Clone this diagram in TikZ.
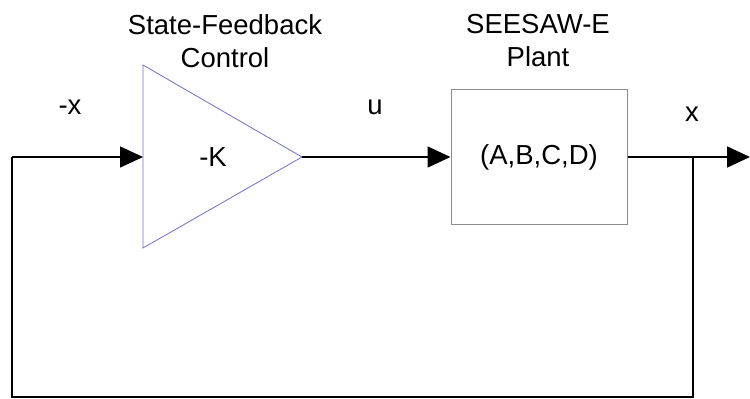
\documentclass[tikz,border=0pt]{standalone}
\usepackage{fontspec}
\setmainfont{Liberation Sans}
\usetikzlibrary{arrows.meta}
\definecolor{tri}{RGB}{110,110,200}
\definecolor{boxc}{RGB}{140,140,140}
\begin{document}
\begin{tikzpicture}[x=1pt,y=-1pt,
  lbl/.style={font=\fontsize{27.5}{33}\selectfont, inner sep=0pt},
  sig/.style={line width=1.6pt, -{Triangle[length=23pt,width=21pt]}},
  wire/.style={line width=1.6pt}]
\useasboundingbox (0,0) rectangle (750,399);
% triangle gain block
\coordinate (tl) at (143,65);
\coordinate (tb) at (143,248);
\coordinate (tip) at (302,157);
\coordinate (kin) at (143,157);
\draw[tri, line width=0.8pt] (tl) -- (tip) -- (tb) -- cycle;
\node[lbl] (K) at (213,157) {-K};
% plant box
\node[draw=boxc, line width=1pt, minimum width=176pt, minimum height=135pt, inner sep=0pt,
  font=\fontsize{27.5}{33}\selectfont] (P) at (539,157) {(A,B,C,D)};
% titles
\node[lbl, align=center] (t1) at (225,41) {State-Feedback\\Control};
\node[lbl, align=center] (t2) at (538,41) {SEESAW-E\\Plant};
% signal labels
\node[lbl] (lx) at (70,107) {-x};
\node[lbl] (lu) at (375,107) {u};
\node[lbl] (lxo) at (692,114) {x};
% connectors
\coordinate (j) at (693,157);
\coordinate (out) at (750,157);
\coordinate (br) at (693,397);
\coordinate (bl) at (12,397);
\coordinate (tlc) at (12,157);
\draw[sig] (tip) -- (P.west);
\draw[wire] (P.east) -- (j);
\draw[sig] (j) -- (out);
\draw[wire] (j) -- (br) -- (bl) -- (tlc);
\draw[sig] (tlc) -- (kin);
\end{tikzpicture}
\end{document}
